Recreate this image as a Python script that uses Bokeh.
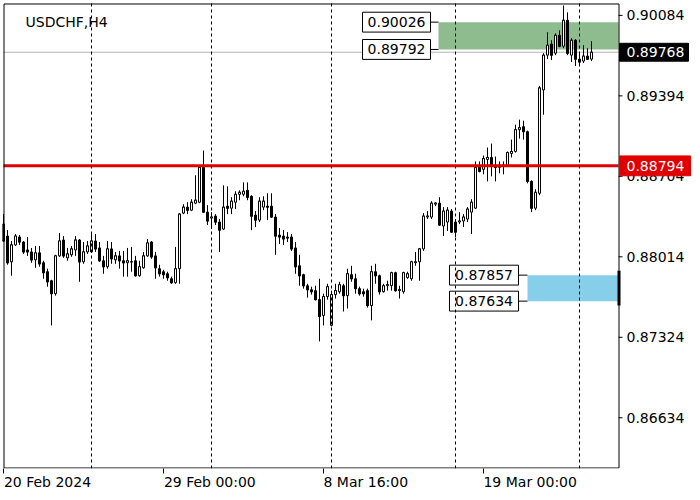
from bokeh.plotting import figure
from bokeh.models import FixedTicker, Range1d, ColumnDataSource, CustomJSTickFormatter
from bokeh.core.properties import value
from bokeh.embed import file_html
from bokeh.resources import INLINE

# ---------------- data ----------------
chart_title = "USDCHF,H4"
opens = [0.88295, 0.88192, 0.87971, 0.88116, 0.88184, 0.88141, 0.88073, 0.88056, 0.87988, 0.88048,
         0.87963, 0.87886, 0.87809, 0.87698, 0.88022, 0.88158, 0.88005, 0.88031, 0.88073, 0.88158,
         0.87971, 0.88056, 0.88056, 0.88150, 0.88090, 0.87980, 0.87929, 0.88082, 0.87988, 0.88022,
         0.87980, 0.87963, 0.87971, 0.87980, 0.87852, 0.87920, 0.88022, 0.88141, 0.88022, 0.87912,
         0.87886, 0.87869, 0.87826, 0.87792, 0.87912, 0.88389, 0.88440, 0.88414, 0.88474, 0.88482,
         0.88781, 0.88397, 0.88346, 0.88363, 0.88312, 0.88252, 0.88448, 0.88431, 0.88482, 0.88550,
         0.88550, 0.88584, 0.88533, 0.88372, 0.88329, 0.88440, 0.88448, 0.88448, 0.88355, 0.88201,
         0.88192, 0.88184, 0.88184, 0.88090, 0.87937, 0.87861, 0.87766, 0.87732, 0.87724, 0.87647,
         0.87511, 0.87673, 0.87426, 0.87690, 0.87715, 0.87766, 0.87681, 0.87861, 0.87826, 0.87741,
         0.87715, 0.87724, 0.87596, 0.87886, 0.87852, 0.87715, 0.87766, 0.87766, 0.87878, 0.87724,
         0.87715, 0.87835, 0.87826, 0.87963, 0.87971, 0.88082, 0.88355, 0.88355, 0.88465, 0.88474,
         0.88278, 0.88312, 0.88406, 0.88312, 0.88312, 0.88321, 0.88338, 0.88397, 0.88431, 0.88789,
         0.88764, 0.88849, 0.88866, 0.88798, 0.88781, 0.88789, 0.88798, 0.88900, 0.88917, 0.89104,
         0.89130, 0.89087, 0.88661, 0.88431, 0.88559, 0.89445, 0.89743, 0.89837, 0.89760, 0.89913,
         0.89820, 0.90042, 0.89743, 0.89871, 0.89709, 0.89692, 0.89735, 0.89709]
highs = [0.88380, 0.88243, 0.88150, 0.88209, 0.88201, 0.88150, 0.88184, 0.88090, 0.88107, 0.88107,
         0.87980, 0.87912, 0.87817, 0.88031, 0.88218, 0.88192, 0.88090, 0.88107, 0.88192, 0.88167,
         0.88141, 0.88150, 0.88209, 0.88209, 0.88141, 0.88022, 0.88150, 0.88141, 0.88056, 0.88065,
         0.88065, 0.88090, 0.88099, 0.88022, 0.87980, 0.88056, 0.88167, 0.88150, 0.88056, 0.87946,
         0.87903, 0.87886, 0.87844, 0.88099, 0.88389, 0.88465, 0.88482, 0.88508, 0.88713, 0.88789,
         0.88925, 0.88457, 0.88397, 0.88380, 0.88338, 0.88627, 0.88618, 0.88525, 0.88576, 0.88584,
         0.88652, 0.88652, 0.88542, 0.88406, 0.88525, 0.88533, 0.88559, 0.88559, 0.88380, 0.88261,
         0.88243, 0.88226, 0.88209, 0.88141, 0.88031, 0.87869, 0.87783, 0.87758, 0.87766, 0.87826,
         0.87698, 0.87783, 0.87724, 0.87783, 0.87800, 0.87783, 0.87912, 0.87937, 0.87869, 0.87758,
         0.87741, 0.87741, 0.87937, 0.87954, 0.87861, 0.87783, 0.87809, 0.87886, 0.87886, 0.87766,
         0.87886, 0.87886, 0.87980, 0.88056, 0.88090, 0.88389, 0.88406, 0.88491, 0.88482, 0.88525,
         0.88440, 0.88440, 0.88423, 0.88338, 0.88397, 0.88380, 0.88440, 0.88508, 0.88832, 0.88832,
         0.88883, 0.88951, 0.88985, 0.88874, 0.88832, 0.88832, 0.88917, 0.89019, 0.89147, 0.89190,
         0.89181, 0.89096, 0.88670, 0.88593, 0.89479, 0.89760, 0.89939, 0.89871, 0.89930, 0.89956,
         0.90169, 0.90110, 0.89888, 0.89880, 0.89760, 0.89828, 0.89803, 0.89863]
lows = [0.88141, 0.87946, 0.87852, 0.88107, 0.88116, 0.88039, 0.88022, 0.87963, 0.87920, 0.87929,
        0.87826, 0.87758, 0.87426, 0.87681, 0.88014, 0.88005, 0.87980, 0.88014, 0.88022, 0.87800,
        0.87954, 0.88039, 0.88048, 0.88056, 0.87971, 0.87869, 0.87912, 0.87954, 0.87954, 0.87912,
        0.87844, 0.87844, 0.87886, 0.87844, 0.87844, 0.87912, 0.88014, 0.87997, 0.87826, 0.87844,
        0.87826, 0.87809, 0.87783, 0.87783, 0.87783, 0.88380, 0.88380, 0.88406, 0.88465, 0.88474,
        0.88389, 0.88287, 0.88252, 0.88287, 0.88056, 0.88243, 0.88380, 0.88380, 0.88423, 0.88499,
        0.88533, 0.88499, 0.88243, 0.88269, 0.88312, 0.88414, 0.88329, 0.88346, 0.88031, 0.88124,
        0.88116, 0.88141, 0.88065, 0.87869, 0.87766, 0.87741, 0.87664, 0.87690, 0.87639, 0.87289,
        0.87426, 0.87647, 0.87417, 0.87656, 0.87698, 0.87545, 0.87571, 0.87800, 0.87698, 0.87681,
        0.87673, 0.87579, 0.87469, 0.87783, 0.87690, 0.87707, 0.87724, 0.87724, 0.87715, 0.87656,
        0.87698, 0.87826, 0.87809, 0.87937, 0.87809, 0.88065, 0.88338, 0.88338, 0.88448, 0.88278,
        0.88192, 0.88235, 0.88218, 0.88184, 0.88295, 0.88269, 0.88312, 0.88209, 0.88423, 0.88738,
        0.88721, 0.88661, 0.88704, 0.88661, 0.88730, 0.88721, 0.88789, 0.88866, 0.88908, 0.89027,
        0.89019, 0.88644, 0.88397, 0.88414, 0.88542, 0.89232, 0.89709, 0.89701, 0.89743, 0.89811,
        0.89803, 0.89743, 0.89684, 0.89650, 0.89658, 0.89675, 0.89701, 0.89692]
closes = [0.88150, 0.87963, 0.88116, 0.88192, 0.88141, 0.88056, 0.88056, 0.87988, 0.88048, 0.87954,
          0.87878, 0.87800, 0.87698, 0.88022, 0.88150, 0.88022, 0.88039, 0.88082, 0.88158, 0.87971,
          0.88056, 0.88107, 0.88150, 0.88082, 0.87980, 0.87929, 0.88082, 0.87997, 0.88022, 0.87980,
          0.87963, 0.87980, 0.87971, 0.87852, 0.87929, 0.88022, 0.88133, 0.88014, 0.87920, 0.87869,
          0.87861, 0.87835, 0.87792, 0.87912, 0.88380, 0.88440, 0.88414, 0.88482, 0.88499, 0.88781,
          0.88397, 0.88321, 0.88355, 0.88312, 0.88243, 0.88440, 0.88431, 0.88491, 0.88550, 0.88567,
          0.88576, 0.88525, 0.88363, 0.88329, 0.88491, 0.88491, 0.88440, 0.88355, 0.88192, 0.88184,
          0.88167, 0.88175, 0.88082, 0.87929, 0.87852, 0.87766, 0.87732, 0.87715, 0.87647, 0.87503,
          0.87673, 0.87758, 0.87690, 0.87724, 0.87775, 0.87681, 0.87869, 0.87826, 0.87741, 0.87698,
          0.87698, 0.87596, 0.87886, 0.87852, 0.87715, 0.87766, 0.87775, 0.87878, 0.87724, 0.87732,
          0.87878, 0.87869, 0.87971, 0.87971, 0.88082, 0.88363, 0.88363, 0.88474, 0.88474, 0.88287,
          0.88406, 0.88414, 0.88226, 0.88226, 0.88321, 0.88355, 0.88423, 0.88482, 0.88781, 0.88747,
          0.88857, 0.88866, 0.88806, 0.88781, 0.88789, 0.88798, 0.88908, 0.88917, 0.89104, 0.89121,
          0.89087, 0.88661, 0.88431, 0.88567, 0.89462, 0.89743, 0.89828, 0.89743, 0.89913, 0.89820,
          0.90042, 0.89760, 0.89871, 0.89709, 0.89684, 0.89735, 0.89709, 0.89768]

x_tick_bars = [0, 40, 80, 120]
x_tick_labels = ["20 Feb 2024", "29 Feb 00:00", "8 Mar 16:00", "19 Mar 00:00"]
grid_bars = [22, 52, 82, 113, 144]
y_ticks = [0.86634, 0.87324, 0.88014, 0.88704, 0.89394, 0.90084]
red_level = 0.88794
bid_price = 0.89768
green_zone = [0.89792, 0.90026]
green_zone_start = 108.75
blue_zone = [0.87634, 0.87857]
blue_zone_start = 131.0
blue_marker = [0.87596, 0.87895]
chart_bars = [0.0, 153.75]          # visible bar span of the chart window
chart_prices = [0.86199, 0.90186]   # visible price span of the chart window

# ---------------- layout (pixel geometry of the chart window) ----------------
W, H = 692, 492
CL, CR, CT, CB = 3, 618, 3, 471       # chart window border in figure pixels
FL, FT, FB = 2, 2, 471                # plot frame (extends to the right edge)
FONT = "DejaVu Sans"
PXB = (CR - CL) / (chart_bars[1] - chart_bars[0])
PXP = (CB - CT) / (chart_prices[1] - chart_prices[0])
label_half_px = [44.0, 46.3, 42.3, 46.7]


def xd(px):
    return chart_bars[0] + (px - CL) / PXB


def yd(py):
    return chart_prices[1] - (py - CT) / PXP


def dy(px):
    return px / PXP


p = figure(width=W, height=H, output_backend="svg", toolbar_location=None,
           x_range=Range1d(xd(FL), xd(W)), y_range=Range1d(yd(FB), yd(FT)),
           y_axis_location=None, x_axis_location="below")
p.min_border_left = FL
p.min_border_top = FT
p.min_border_right = 0
p.min_border_bottom = H - FB
p.outline_line_color = None
p.background_fill_color = "white"
p.border_fill_color = "white"

# vertical dashed grid
p.ygrid.visible = False
p.xgrid.ticker = FixedTicker(ticks=grid_bars)
p.xgrid.grid_line_color = "black"
p.xgrid.grid_line_dash = "3 3"
p.xgrid.grid_line_width = 1
p.xgrid.level = "glyph"

# x axis: ticks at the dates, labels left-aligned to them
xa = p.xaxis[0]
centers = [b + h / PXB for b, h in zip(x_tick_bars, label_half_px)]
xa.ticker = FixedTicker(ticks=centers, minor_ticks=x_tick_bars)
xa.formatter = CustomJSTickFormatter(args=dict(labels=x_tick_labels), code="return labels[index]")
xa.major_tick_out = 5
xa.major_tick_in = 0
xa.major_tick_line_color = None
xa.minor_tick_out = 5
xa.minor_tick_in = 0
xa.minor_tick_line_color = "black"
xa.major_label_standoff = 0
xa.major_label_text_font = FONT
xa.major_label_text_font_size = "14px"
xa.major_label_text_color = "black"
xa.axis_line_color = None

# zones
p.quad(left=[green_zone_start], right=[chart_bars[1]], bottom=[green_zone[0]], top=[green_zone[1]],
       fill_color="#8fbc8f", line_color=None)
p.quad(left=[blue_zone_start], right=[chart_bars[1]], bottom=[blue_zone[0]], top=[blue_zone[1]],
       fill_color="#87ceeb", line_color=None)

# bid line
p.segment(x0=[chart_bars[0]], x1=[chart_bars[1]], y0=[bid_price], y1=[bid_price],
          line_color="#b4b4b4", line_width=1)

# candles
bars = list(range(len(opens)))
src = ColumnDataSource(dict(
    x=bars, o=opens, h=highs, l=lows, c=closes,
    top=[max(a, b) for a, b in zip(opens, closes)],
    bottom=[min(a, b) for a, b in zip(opens, closes)],
    fill=["white" if c >= o else "black" for o, c in zip(opens, closes)],
    xl=[b - 0.3 for b in bars], xr=[b + 0.3 for b in bars],
))
p.segment(x0="x", y0="h", x1="x", y1="l", source=src, line_color="black", line_width=1)
p.segment(x0="xl", y0="c", x1="xr", y1="c", source=src, line_color="black", line_width=1)
p.vbar(x="x", width=0.5, top="top", bottom="bottom", fill_color="fill", line_color="black",
       line_width=1, source=src)

# red level line
p.segment(x0=[chart_bars[0]], x1=[chart_bars[1]], y0=[red_level], y1=[red_level],
          line_color="#e00000", line_width=3)

# chart window border
bx0, bx1 = xd(CL + 0.5), xd(CR + 0.5)
by0, by1 = yd(CB - 0.5), yd(CT + 0.5)
p.multi_line(xs=[[bx0, bx1, bx1, bx0, bx0]], ys=[[by1, by1, by0, by0, by1]],
             line_color="black", line_width=1)

# price axis (right side of the chart window)
p.segment(x0=[xd(CR)] * len(y_ticks), x1=[xd(CR + 4)] * len(y_ticks), y0=y_ticks, y1=y_ticks,
          line_color="black", line_width=1)
p.text(x=[xd(CR + 8)] * len(y_ticks), y=y_ticks, text=["%.5f" % v for v in y_ticks],
       text_align="left", text_baseline="middle", text_font=value(FONT),
       text_font_size=value("14px"), text_color="black")

# connector lines from price boxes to the zones
p.segment(x0=[xd(430)] * 2, x1=[green_zone_start] * 2, y0=green_zone[::-1], y1=green_zone[::-1],
          line_color="black", line_width=1)
p.segment(x0=[xd(518)] * 2, x1=[blue_zone_start] * 2, y0=blue_zone[::-1], y1=blue_zone[::-1],
          line_color="black", line_width=1)
# marker at the right edge of the blue zone
p.segment(x0=[xd(CR + 0.5)], x1=[xd(CR + 0.5)], y0=[blue_marker[0]], y1=[blue_marker[1]],
          line_color="black", line_width=3)


def price_box(px0, px1, level, text, fg, bg, border, half_h=10, text_px=None, align="center"):
    p.quad(left=[xd(px0)], right=[xd(px1)], bottom=[level - dy(half_h)], top=[level + dy(half_h)],
           fill_color=bg, line_color=border, line_width=1)
    tx = xd(text_px) if text_px is not None else xd((px0 + px1) / 2)
    p.text(x=[tx], y=[level], text=[text], text_align=align, text_baseline="middle",
           text_font=value(FONT), text_font_size=value("14px"), text_color=fg)


for v in green_zone[::-1]:
    price_box(362, 430, v, "%.5f" % v, "black", "white", "black")
for v in blue_zone[::-1]:
    price_box(449, 518, v, "%.5f" % v, "black", "white", "black")

# price tags on the axis
price_box(619, 690, red_level, "%.5f" % red_level, "white", "#e00000", "#e00000",
          text_px=CR + 8, align="left")
price_box(619, 688, bid_price, "%.5f" % bid_price, "white", "black", "black", half_h=9,
          text_px=CR + 8, align="left")

# title
p.text(x=[xd(25)], y=[yd(22)], text=[chart_title], text_align="left", text_baseline="alphabetic",
       text_font=value(FONT), text_font_size=value("14px"), text_color="black")

open("out.html", "w").write(file_html(p, INLINE))
